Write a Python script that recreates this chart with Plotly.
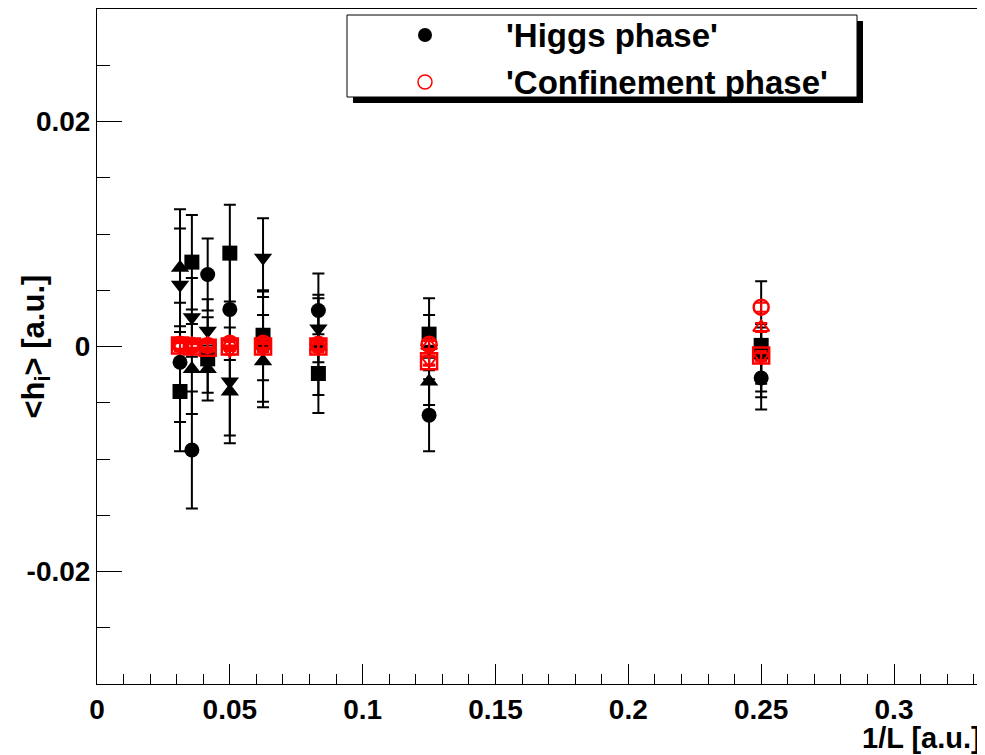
import plotly.graph_objects as go

# ---------------- data ----------------
L_values = [32, 28, 24, 20, 16, 12, 8, 4]
inv_L = [1.0 / L for L in L_values]

# Higgs phase (black, filled markers)
higgs_circle = [-0.0014, -0.0092, 0.0064, 0.0033, 0.0000, 0.0032, -0.0061, -0.0028]
higgs_circle_err = [0.0053, 0.0052, 0.0032, 0.0045, 0.0049, 0.0033, 0.0032, 0.0017]
higgs_square = [-0.0040, 0.0075, -0.0011, 0.0083, 0.0010, -0.0024, 0.0011, 0.0001]
higgs_square_err = [0.0053, 0.0042, 0.0037, 0.0043, 0.0040, 0.0035, 0.0032, 0.0057]
higgs_tri_up = [0.0070, -0.0020, -0.0020, -0.0040, -0.0013, 0.0000, -0.0031, -0.0008]
higgs_tri_up_err = [0.0052, 0.0040, 0.0021, 0.0046, 0.0041, 0.0043, 0.0021, 0.0025]
higgs_tri_down = [0.0055, 0.0026, 0.0014, -0.0031, 0.0079, 0.0016, -0.0002, -0.0010]
higgs_tri_down_err = [0.0050, 0.0035, 0.0028, 0.0048, 0.0035, 0.0030, 0.0030, 0.0030]

# Confinement phase (red, open markers)
conf_circle = [0.0002, 0.0001, 0.0001, 0.0003, 0.0003, 0.0002, 0.0002, 0.0035]
conf_square = [0.0001, 0.0000, -0.0001, 0.0000, 0.0000, 0.0000, -0.0013, -0.0008]
conf_tri_up = [0.0001, 0.0002, 0.0002, 0.0002, 0.0002, 0.0001, 0.0001, 0.0017]
conf_tri_down = [0.0000, -0.0001, 0.0000, -0.0003, -0.0001, -0.0001, -0.0012, -0.0009]
conf_err = [0.0004, 0.0004, 0.0004, 0.0004, 0.0004, 0.0004, 0.0004, 0.0004]

x_tickvals = [0, 0.05, 0.1, 0.15, 0.2, 0.25, 0.3]
x_ticktext = ["0", "0.05", "0.1", "0.15", "0.2", "0.25", "0.3"]
y_tickvals = [-0.02, 0, 0.02]
y_ticktext = ["-0.02", "0", "0.02"]

legend_labels = ["'Higgs phase'", "'Confinement phase'"]
x_title = "1/L [a.u.]"
y_title = "&lt;h<sub>i</sub>&gt; [a.u.]"

# ---------------- figure ----------------
# the page body has an 8px margin, so the figure is placed at (8, 8)
OFF = 8
W, H = 985 - OFF, 755 - OFF
ML, MR, MT, MB = 97 - OFF, 2, 9 - OFF, 755 - OFF - (684 - OFF) - 0
MB = H - (684 - OFF)
FONT = "Liberation Sans, Arial, sans-serif"

PL, PR, PT, PB = 97, 983, 9, 684  # plot area in window pixels

fig = go.Figure()

def add_series(y, err, symbol, color, size, width_line=0):
    fig.add_trace(go.Scatter(
        x=inv_L, y=y, mode="markers",
        marker=dict(symbol=symbol, size=size, color=color,
                    line=dict(color=color, width=width_line)),
        error_y=dict(type="data", array=err, color=color, thickness=2, width=6),
        showlegend=False, cliponaxis=False,
    ))

add_series(higgs_circle, higgs_circle_err, "circle", "black", 15)
add_series(higgs_square, higgs_square_err, "square", "black", 15)
add_series(higgs_tri_up, higgs_tri_up_err, "triangle-up", "black", 16)
add_series(higgs_tri_down, higgs_tri_down_err, "triangle-down", "black", 16)

add_series(conf_circle, conf_err, "circle-open", "red", 15, 2.5)
add_series(conf_square, conf_err, "square-open", "red", 16, 2.5)
add_series(conf_tri_up, conf_err, "triangle-up-open", "red", 14, 2)
add_series(conf_tri_down, conf_err, "triangle-down-open", "red", 14, 2)

# legend (drawn on an overlay axis whose units are window pixels)
LEG_X0, LEG_X1, LEG_Y0, LEG_Y1 = 347, 857, 15, 97
leg_marker_x = [425, 425]
leg_marker_y = [35, 82]
fig.add_trace(go.Scatter(
    x=[leg_marker_x[0]], y=[leg_marker_y[0]], xaxis="x2", yaxis="y2", mode="markers",
    marker=dict(symbol="circle", size=14, color="black"), showlegend=False, hoverinfo="skip"))
fig.add_trace(go.Scatter(
    x=[leg_marker_x[1]], y=[leg_marker_y[1]], xaxis="x2", yaxis="y2", mode="markers",
    marker=dict(symbol="circle-open", size=14, color="red", line=dict(color="red", width=1.5)),
    showlegend=False, hoverinfo="skip"))

shapes = [
    dict(type="rect", xref="x2", yref="y2", x0=LEG_X0 + 6, x1=LEG_X1 + 6, y0=LEG_Y0 + 6, y1=LEG_Y1 + 6,
         fillcolor="black", line=dict(color="black", width=0), layer="below"),
    dict(type="rect", xref="x2", yref="y2", x0=LEG_X0, x1=LEG_X1, y0=LEG_Y0, y1=LEG_Y1,
         fillcolor="white", line=dict(color="black", width=1), layer="below"),
]

annotations = [
    dict(xref="x2", yref="y2", x=504, y=leg_marker_y[0], text=legend_labels[0], showarrow=False,
         xanchor="left", yanchor="middle", font=dict(family=FONT, size=33, color="black", weight="bold")),
    dict(xref="x2", yref="y2", x=504, y=leg_marker_y[1], text=legend_labels[1], showarrow=False,
         xanchor="left", yanchor="middle", font=dict(family=FONT, size=33, color="black", weight="bold")),
    dict(xref="paper", yref="paper", x=1.0, xanchor="right", y=(PB - 738) / (PB - PT), yanchor="middle",
         text=x_title, showarrow=False, font=dict(family=FONT, size=29, color="black", weight="bold")),
    dict(xref="paper", yref="paper", x=(35 - PL) / (PR - PL), xanchor="center", y=0.5, yanchor="middle",
         textangle=-90, text=y_title, showarrow=False,
         font=dict(family=FONT, size=31, color="black", weight="bold")),
]

fig.update_layout(
    width=W, height=H,
    margin=dict(l=ML, r=MR, t=MT, b=MB, pad=0),
    paper_bgcolor="white", plot_bgcolor="white",
    font=dict(family=FONT, color="black"),
    showlegend=False,
    xaxis=dict(range=[0, 0.3335], showgrid=False, zeroline=False,
               showline=True, linecolor="black", linewidth=1, mirror=True,
               ticks="inside", ticklen=20, tickwidth=1, tickcolor="black",
               tickvals=x_tickvals, ticktext=x_ticktext,
               tickfont=dict(family=FONT, size=28, color="black", weight="bold"),
               minor=dict(ticks="inside", ticklen=10, dtick=0.01, tick0=0, tickcolor="black", showgrid=False)),
    yaxis=dict(range=[-0.03, 0.03], showgrid=False, zeroline=False,
               showline=True, linecolor="black", linewidth=1, mirror=True,
               ticks="inside", ticklen=25, tickwidth=1, tickcolor="black",
               tickvals=y_tickvals, ticktext=y_ticktext,
               tickfont=dict(family=FONT, size=28, color="black", weight="bold"),
               minor=dict(ticks="inside", ticklen=13, dtick=0.005, tick0=0, tickcolor="black", showgrid=False)),
    xaxis2=dict(range=[PL, PR], overlaying="x", visible=False, fixedrange=True),
    yaxis2=dict(range=[PB, PT], overlaying="y", visible=False, fixedrange=True),
    shapes=shapes,
    annotations=annotations,
)

fig.write_html("out.html")
